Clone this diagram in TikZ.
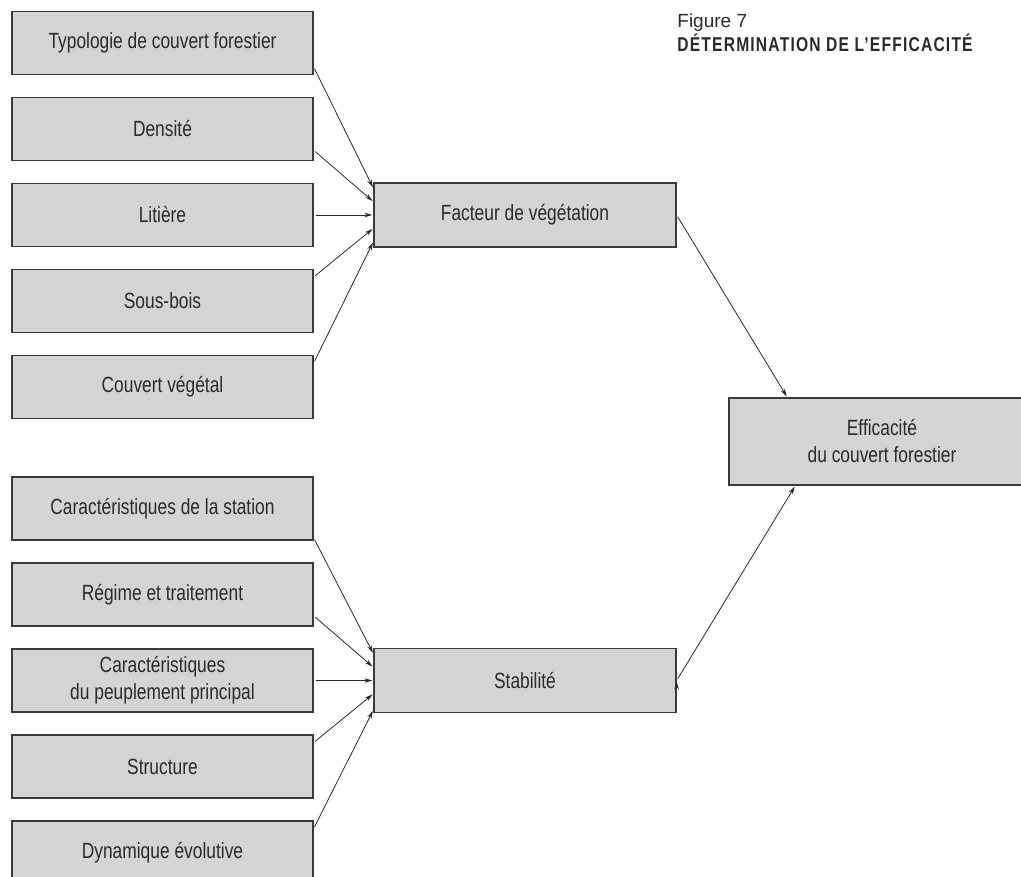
\documentclass[tikz,border=0pt]{standalone}
\usepackage{fontspec}
\usepackage{xcolor}
\usetikzlibrary{positioning,arrows.meta}
\newfontfamily\boxfont{Liberation Sans}[FakeStretch=0.79]
\newfontfamily\figfont{Liberation Sans}
\newfontfamily\titlefont{Liberation Sans}[FakeStretch=0.78,LetterSpace=6]
\definecolor{boxgray}{HTML}{D3D4D6}
\definecolor{boxline}{HTML}{3A3A3A}
\definecolor{inkgray}{HTML}{2A2A2A}

\begin{document}
\begin{tikzpicture}[x=1pt,y=-1pt,->,>={Stealth[length=8pt,width=4.5pt]},shorten >=1pt,shorten <=2pt,node distance=86pt,line width=0.8pt,
    box/.style={rectangle,draw=boxline,line width=1.3pt,fill=boxgray,text=inkgray,align=center,
        font=\boxfont\fontsize{22}{27}\selectfont,minimum width=301pt,minimum height=63pt,inner sep=0pt}]

                \useasboundingbox (0,0) rectangle (1021,877);
                \clip (0,0) rectangle (1021,877);

                \node[box] (t1) at (162.5,43) {Typologie de couvert forestier};
                \node[box] (t2) [below of = t1] {Densité};
                \node[box] (t3) [below of = t2] {Litière};
                \node[box] (t4) [below of = t3] {Sous-bois};
                \node[box] (t5) [below of = t4] {Couvert végétal};

                \node[box] (b1) at (162.5,508.5) {Caractéristiques de la station};
                \node[box] (b2) [below of = b1] {Régime et traitement};
                \node[box] (b3) [below of = b2] {Caractéristiques\\du peuplement principal};
                \node[box] (b4) [below of = b3] {Structure};
                \node[box] (b5) [below of = b4] {Dynamique évolutive};

                \node[box, minimum width=302pt, minimum height=64pt] (fv) [right of = t3, node distance=362.5pt] {Facteur de végétation};
                \node[box, minimum width=302pt, minimum height=64pt] (st) [right of = b3, node distance=362.5pt] {Stabilité};
                \node[box, minimum width=306pt, minimum height=87pt] (ef) at (882,441.5) {Efficacité\\du couvert forestier};

                % titre
                \node[anchor=base west, text=inkgray, inner sep=0pt, font=\figfont\fontsize{19}{22}\selectfont] (fig) at (677,28) {Figure 7};
                \node[anchor=base west, text=inkgray, inner sep=0pt, font=\titlefont\bfseries\fontsize{20}{22}\selectfont] (tit) at (677,51.5) {DÉTERMINATION DE L’EFFICACITÉ};

                \path[draw=inkgray]
                    (t1.-9) edge (fv.170)
                    (t2.-8) edge (fv.175)
                    (t3.east) edge (fv.west)
                    (t4.9) edge (fv.185)
                    (t5.9) edge (fv.190)

                    (b1.-11) edge (st.170)
                    (b2.-8) edge (st.175)
                    (b3.east) edge (st.west)
                    (b4.9) edge (st.185)
                    (b5.9) edge (st.191)

                    (fv.east) edge (ef.155)
                    (st.east) edge (ef.207)
                ;
            \end{tikzpicture}
\end{document}
